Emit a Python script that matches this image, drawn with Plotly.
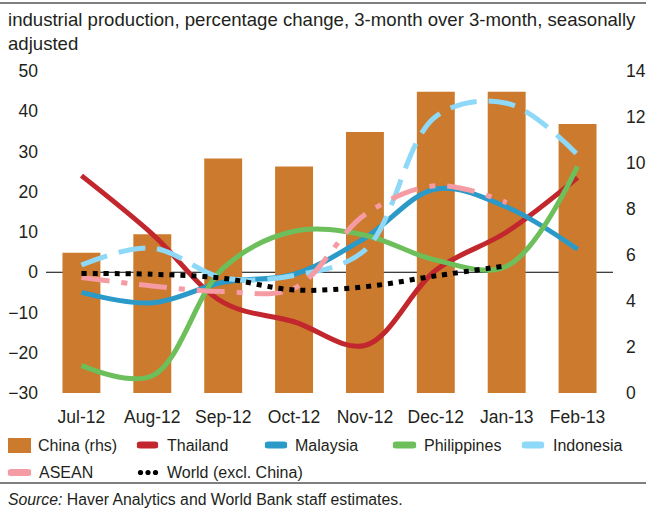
import plotly.graph_objects as go

# ---------------- data ----------------
months = ["Jul-12", "Aug-12", "Sep-12", "Oct-12", "Nov-12", "Dec-12", "Jan-13", "Feb-13"]
china_rhs = [6.1, 6.9, 10.2, 9.85, 11.35, 13.1, 13.1, 11.7]
thailand = [24.0, 9.5, -7.5, -12.3, -18.2, 0.5, 10.0, 23.5]
malaysia = [-5.0, -7.6, -2.5, -0.5, 8.5, 20.7, 16.2, 5.7]
philippines = [-23.2, -25.7, 1.0, 10.2, 9.2, 3.0, 1.5, 26.3]
indonesia = [1.8, 6.0, -1.4, -0.8, 5.5, 38.7, 42.0, 29.2]
asean = [-1.3, -3.4, -4.8, -4.0, 14.3, 21.5, 17.3]
world = [-0.3, -0.5, -1.5, -4.4, -3.6, -0.9, 1.6]

left_ticks = [-30, -20, -10, 0, 10, 20, 30, 40, 50]
right_ticks = [0, 2, 4, 6, 8, 10, 12, 14]

# ---------------- style ----------------
W, H = 646, 510
PL, PR, PT, PB = 46, 613, 71, 393  # plot area in pixels
C_BAR = "#CC7A2D"
C_TH = "#C1272D"
C_MY = "#2B9AC8"
C_PH = "#6CBF5A"
C_ID = "#8ED8F8"
C_AS = "#F49BA3"
C_WO = "#000000"
TXT = "#231F20"
FONT = "Liberation Sans, Arial, Helvetica, sans-serif"


def xp(px):
    return (px - PL) / (PR - PL)


def yp(py):
    return (PB - py) / (PB - PT)


fig = go.Figure()

fig.add_trace(go.Bar(x=months, y=china_rhs, marker=dict(color=C_BAR, line=dict(width=0)),
                     yaxis="y", name="China (rhs)"))

LW = 5
line_specs = [
    ("Thailand", thailand, C_TH, "solid"),
    ("Malaysia", malaysia, C_MY, "solid"),
    ("Philippines", philippines, C_PH, "solid"),
    ("Indonesia", indonesia, C_ID, "27px,12px"),
    ("ASEAN", asean, C_AS, "28px,12px,6px,12px"),
    ("World (excl. China)", world, C_WO, "5px,6px"),
]
for name, vals, col, dash in line_specs:
    fig.add_trace(go.Scatter(x=months[:len(vals)], y=vals, mode="lines", name=name,
                             yaxis="y2",
                             line=dict(color=col, width=LW, dash=dash, shape="spline", smoothing=1.0)))

shapes = []
annotations = []

# zero line (left axis)
shapes.append(dict(type="line", xref="paper", yref="y2", x0=0, x1=1, y0=0, y1=0,
                   line=dict(color="black", width=1), layer="below"))

# top rule and rule above source
shapes.append(dict(type="line", xref="paper", yref="paper", x0=xp(0), x1=xp(W), y0=yp(3), y1=yp(3),
                   line=dict(color="black", width=1.2)))
shapes.append(dict(type="line", xref="paper", yref="paper", x0=xp(0), x1=xp(W), y0=yp(483), y1=yp(483),
                   line=dict(color="black", width=1)))


def pill(x0, x1, yc, col, h=7):
    r = h / 2
    path = (f"M {xp(x0 + r)},{yp(yc - r)} L {xp(x1 - r)},{yp(yc - r)} "
            f"Q {xp(x1 + r * 0.35)},{yp(yc - r)} {xp(x1)},{yp(yc)} "
            f"Q {xp(x1 + r * 0.35)},{yp(yc + r)} {xp(x1 - r)},{yp(yc + r)} "
            f"L {xp(x0 + r)},{yp(yc + r)} "
            f"Q {xp(x0 - r * 0.35)},{yp(yc + r)} {xp(x0)},{yp(yc)} "
            f"Q {xp(x0 - r * 0.35)},{yp(yc - r)} {xp(x0 + r)},{yp(yc - r)} Z")
    return dict(type="path", xref="paper", yref="paper", path=path,
                fillcolor=col, line=dict(width=0))


PADX = 2  # annotation inner padding


def label(x, y, text):
    return dict(x=xp(x - PADX), y=yp(y), xref="paper", yref="paper", text=text, showarrow=False,
                xanchor="left", yanchor="middle", font=dict(family=FONT, size=16, color=TXT))


R1, R2 = 445, 472.5
# China square
shapes.append(dict(type="rect", xref="paper", yref="paper", x0=xp(8), x1=xp(31), y0=yp(438), y1=yp(453),
                   fillcolor=C_BAR, line=dict(width=0)))
annotations.append(label(38, R1, "China (rhs)"))
for (x0, x1, tx, col, name) in [(137, 158, 167, C_TH, "Thailand"),
                                (265, 287, 295, C_MY, "Malaysia"),
                                (393, 416, 424, C_PH, "Philippines"),
                                (522, 544, 553, C_ID, "Indonesia")]:
    shapes.append(pill(x0, x1, R1, col))
    annotations.append(label(tx, R1, name))
shapes.append(pill(8, 31, R2, C_AS))
annotations.append(label(39, R2, "ASEAN"))
for cx in (140.5, 148, 155.5):
    shapes.append(dict(type="circle", xref="paper", yref="paper",
                       x0=xp(cx - 2.6), x1=xp(cx + 2.6), y0=yp(R2 - 2.6), y1=yp(R2 + 2.6),
                       fillcolor="black", line=dict(width=0)))
annotations.append(label(167, R2, "World (excl. China)"))

# title
annotations.append(dict(x=xp(8 - PADX), y=yp(7), xref="paper", yref="paper", xanchor="left", yanchor="top",
                        align="left", showarrow=False,
                        text="industrial production, percentage change, 3-month over 3-month, seasonally<br>adjusted",
                        font=dict(family=FONT, size=18.6, color=TXT)))
# source
annotations.append(dict(x=xp(8 - PADX), y=yp(499), xref="paper", yref="paper", xanchor="left", yanchor="middle",
                        showarrow=False,
                        text="<i>Source:</i> Haver Analytics and World Bank staff estimates.",
                        font=dict(family=FONT, size=15.8, color=TXT)))

TICKF = dict(family=FONT, size=17.5, color=TXT)
fig.update_layout(
    width=W, height=H,
    margin=dict(l=PL, r=W - PR, t=PT, b=H - PB, pad=0, autoexpand=False),
    paper_bgcolor="white", plot_bgcolor="white",
    showlegend=False,
    bargap=0.465,
    xaxis=dict(type="category", categoryorder="array", categoryarray=months,
               range=[-0.5, 7.5], showgrid=False, zeroline=False, showline=False, ticks="",
               tickangle=0, tickfont=TICKF, ticklabelstandoff=11, automargin=False),
    yaxis=dict(side="right", range=[0, 14], tickvals=right_ticks, showgrid=False, zeroline=False,
               showline=False, ticks="", tickfont=TICKF, ticklabelstandoff=12, automargin=False),
    yaxis2=dict(side="left", overlaying="y", range=[-30, 50], tickvals=left_ticks, showgrid=False,
                zeroline=False, showline=False, ticks="", tickfont=TICKF, ticklabelstandoff=7,
                automargin=False),
    shapes=shapes,
    annotations=annotations,
)

fig.write_html("out.html", config={"displayModeBar": False},
               post_script="document.body.style.margin='0';document.body.style.padding='0';")
